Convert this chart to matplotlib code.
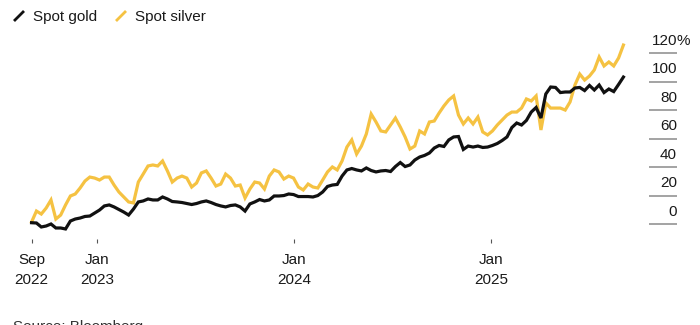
import matplotlib
matplotlib.use("Agg")
import matplotlib.pyplot as plt
import matplotlib.dates as mdates
import pandas as pd
from matplotlib.lines import Line2D
from matplotlib.transforms import blended_transform_factory

plt.rcParams['font.family'] = ['Liberation Sans', 'DejaVu Sans']

# ---- data (percent change since Sep 2022) ----
dates = pd.date_range('2022-09-01', periods=123, freq='9D')

gold = [0.9, 0.7, -2.1, -1.4, 0.0, -2.8, -2.8, -3.5, 2.1, 3.5,
        4.2, 5.3, 5.6, 7.7, 9.8, 12.7, 13.4, 12.0, 10.2, 8.4,
        6.3, 10.5, 15.5, 16.2, 17.6, 16.9, 16.9, 19.0, 17.6, 15.8,
        15.5, 15.1, 14.4, 13.7, 14.4, 15.5, 16.2, 15.1, 13.7, 12.7,
        12.0, 13.0, 13.4, 12.0, 9.1, 14.1, 15.5, 17.2, 16.2, 16.9,
        19.7, 19.7, 20.0, 21.1, 20.7, 19.3, 19.3, 19.3, 19.0, 20.0,
        22.5, 26.4, 27.4, 27.8, 33.7, 38.0, 39.0, 38.0, 37.3, 39.4,
        37.6, 36.6, 37.3, 37.6, 36.9, 40.4, 43.2, 40.4, 41.5, 45.0,
        47.1, 48.2, 49.9, 53.4, 55.2, 54.5, 59.1, 61.2, 61.5, 52.4,
        54.8, 54.1, 54.8, 53.8, 54.1, 55.2, 56.6, 58.7, 61.2, 67.8,
        71.0, 69.6, 72.8, 78.7, 81.9, 74.5, 91.4, 96.3, 96.0, 92.4,
        92.8, 92.8, 95.6, 96.0, 93.8, 97.4, 94.2, 97.7, 92.4, 94.9,
        93.1, 98.1, 103.3]

silver = [1.4, 9.1, 7.0, 11.2, 16.9, 3.5, 6.3, 13.4, 19.7, 21.1,
          25.3, 30.2, 33.0, 32.3, 30.9, 33.0, 33.0, 27.4, 22.5, 19.0,
          15.5, 14.8, 29.5, 35.1, 40.8, 41.5, 40.8, 44.3, 37.3, 29.5,
          32.3, 33.7, 32.3, 26.0, 28.8, 35.9, 37.3, 32.3, 26.7, 28.1,
          35.1, 32.3, 26.7, 27.4, 18.3, 24.6, 29.5, 28.8, 24.6, 33.7,
          38.0, 36.6, 31.6, 33.7, 32.3, 26.0, 23.9, 28.1, 26.0, 25.3,
          30.9, 36.6, 40.1, 38.0, 44.3, 54.1, 59.1, 49.2, 54.8, 63.3,
          77.3, 71.7, 65.4, 64.7, 69.6, 74.5, 68.2, 61.2, 52.7, 54.8,
          65.4, 63.3, 71.7, 72.4, 78.0, 83.0, 87.2, 90.0, 76.6, 70.3,
          74.5, 70.3, 75.2, 64.7, 62.6, 65.4, 69.6, 73.1, 76.6, 78.7,
          78.7, 81.5, 87.9, 86.5, 90.0, 66.1, 85.1, 81.5, 81.5, 81.5,
          80.1, 85.8, 97.7, 105.4, 101.2, 104.0, 108.3, 117.4, 111.1, 113.9,
          111.1, 116.7, 125.8]

y_ticks = [0, 20, 40, 60, 80, 100, 120]
y_tick_labels = ['0', '20', '40', '60', '80', '100', '120']
x_tick_dates = pd.to_datetime(['2022-09-01', '2023-01-01', '2024-01-01', '2025-01-01'])
x_tick_labels = ['Sep\n2022', 'Jan\n2023', 'Jan\n2024', 'Jan\n2025']
series_names = ['Spot gold', 'Spot silver']

GOLD_C = '#111111'
SILVER_C = '#F5C242'
FS = 11
LW = 2.3

W, H = 700, 325
fig = plt.figure(figsize=(W / 100, H / 100), dpi=100)
ax = fig.add_axes([20 / W, (H - 239) / H, 657 / W, 209 / H])

ax.plot(dates, silver, color=SILVER_C, lw=LW, solid_joinstyle='miter')
ax.plot(dates, gold, color=GOLD_C, lw=LW, solid_joinstyle='miter')

start = mdates.date2num(pd.Timestamp('2022-09-01'))
ax.set_xlim(start - 21.5, start + 1197.4)
pxu = 1.4225
ax.set_ylim((224 - 239) / pxu, (224 - 30) / pxu)

for s in ax.spines.values():
    s.set_visible(False)

ax.set_xticks(x_tick_dates)
ax.set_xticklabels(x_tick_labels, fontsize=FS, color='#1a1a1a', linespacing=1.55)
ax.tick_params(axis='x', length=3, width=0.8, color='#555555', pad=7)

ax.yaxis.tick_right()
ax.set_yticks(y_ticks)
ax.tick_params(axis='y', direction='in', length=20.2, width=1.1, color='#8a8a8a',
               labelright=False, labelleft=False)

trans = blended_transform_factory(ax.transAxes, ax.transData)
for v, lab in zip(y_ticks, y_tick_labels):
    ax.annotate(lab, xy=(1.0, v), xycoords=trans, xytext=(0, 6), textcoords='offset points',
                ha='right', va='baseline', fontsize=FS, color='#1a1a1a')
ax.annotate('%', xy=(1.0, y_ticks[-1]), xycoords=trans, xytext=(-0.6, 6), textcoords='offset points',
            ha='left', va='baseline', fontsize=FS, color='#1a1a1a', annotation_clip=False)

# legend
def fx(x):
    return x / W
def fy(y):
    return (H - y) / H

fig.add_artist(Line2D([fx(14), fx(24)], [fy(21), fy(11)], color=GOLD_C, lw=2.0,
                      solid_capstyle='butt', transform=fig.transFigure))
fig.text(fx(33), fy(21), series_names[0], fontsize=FS, color='#1a1a1a', va='baseline', ha='left')
fig.add_artist(Line2D([fx(116), fx(126)], [fy(21), fy(11)], color=SILVER_C, lw=2.0,
                      solid_capstyle='butt', transform=fig.transFigure))
fig.text(fx(135), fy(21), series_names[1], fontsize=FS, color='#1a1a1a', va='baseline', ha='left')

fig.text(fx(13), fy(319.5), 'Source: Bloomberg', fontsize=FS, color='#333333', va='top', ha='left')

fig.savefig('out.png', dpi=100)
